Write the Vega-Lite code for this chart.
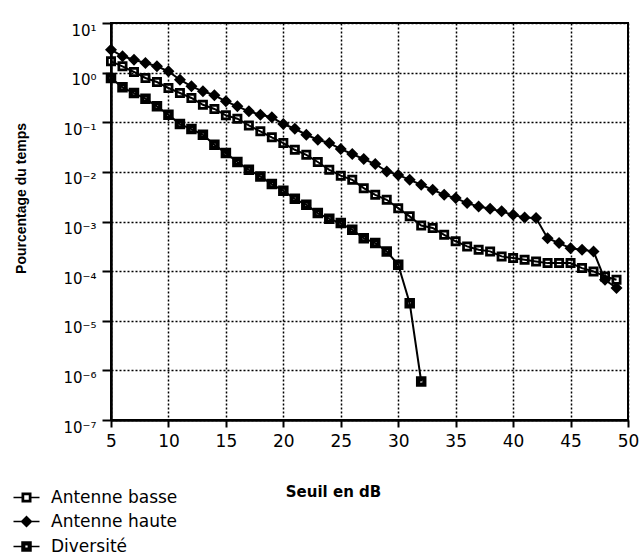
{
  "$schema": "https://vega.github.io/schema/vega-lite/v6.json",
  "width": 517,
  "height": 397,
  "padding": {"left": 14, "top": 22, "right": 0, "bottom": 5},
  "background": "white",
  "config": {"view": {"stroke": "black", "strokeWidth": 2}, "font": "DejaVu Sans"},
  "datasets": {
    "series": [
      {"serie": "Antenne basse", "db": 5, "pct": 1.69},
      {"serie": "Antenne basse", "db": 6, "pct": 1.34},
      {"serie": "Antenne basse", "db": 7, "pct": 1.03},
      {"serie": "Antenne basse", "db": 8, "pct": 0.78},
      {"serie": "Antenne basse", "db": 9, "pct": 0.646},
      {"serie": "Antenne basse", "db": 10, "pct": 0.49},
      {"serie": "Antenne basse", "db": 11, "pct": 0.388},
      {"serie": "Antenne basse", "db": 12, "pct": 0.308},
      {"serie": "Antenne basse", "db": 13, "pct": 0.225},
      {"serie": "Antenne basse", "db": 14, "pct": 0.185},
      {"serie": "Antenne basse", "db": 15, "pct": 0.138},
      {"serie": "Antenne basse", "db": 16, "pct": 0.118},
      {"serie": "Antenne basse", "db": 17, "pct": 0.0865},
      {"serie": "Antenne basse", "db": 18, "pct": 0.0656},
      {"serie": "Antenne basse", "db": 19, "pct": 0.0496},
      {"serie": "Antenne basse", "db": 20, "pct": 0.0381},
      {"serie": "Antenne basse", "db": 21, "pct": 0.0279},
      {"serie": "Antenne basse", "db": 22, "pct": 0.0221},
      {"serie": "Antenne basse", "db": 23, "pct": 0.0158},
      {"serie": "Antenne basse", "db": 24, "pct": 0.011},
      {"serie": "Antenne basse", "db": 25, "pct": 0.0084},
      {"serie": "Antenne basse", "db": 26, "pct": 0.0069},
      {"serie": "Antenne basse", "db": 27, "pct": 0.0047},
      {"serie": "Antenne basse", "db": 28, "pct": 0.00345},
      {"serie": "Antenne basse", "db": 29, "pct": 0.00274},
      {"serie": "Antenne basse", "db": 30, "pct": 0.00186},
      {"serie": "Antenne basse", "db": 31, "pct": 0.00127},
      {"serie": "Antenne basse", "db": 32, "pct": 0.00083},
      {"serie": "Antenne basse", "db": 33, "pct": 0.00074},
      {"serie": "Antenne basse", "db": 34, "pct": 0.00054},
      {"serie": "Antenne basse", "db": 35, "pct": 0.0004},
      {"serie": "Antenne basse", "db": 36, "pct": 0.000315},
      {"serie": "Antenne basse", "db": 37, "pct": 0.00027},
      {"serie": "Antenne basse", "db": 38, "pct": 0.00025},
      {"serie": "Antenne basse", "db": 39, "pct": 0.000198},
      {"serie": "Antenne basse", "db": 40, "pct": 0.000183},
      {"serie": "Antenne basse", "db": 41, "pct": 0.000169},
      {"serie": "Antenne basse", "db": 42, "pct": 0.000157},
      {"serie": "Antenne basse", "db": 43, "pct": 0.000145},
      {"serie": "Antenne basse", "db": 44, "pct": 0.000145},
      {"serie": "Antenne basse", "db": 45, "pct": 0.000145},
      {"serie": "Antenne basse", "db": 46, "pct": 0.000115},
      {"serie": "Antenne basse", "db": 47, "pct": 0.0000986},
      {"serie": "Antenne basse", "db": 48, "pct": 0.0000782},
      {"serie": "Antenne basse", "db": 49, "pct": 0.0000668},
      {"serie": "Antenne haute", "db": 5, "pct": 2.9},
      {"serie": "Antenne haute", "db": 6, "pct": 2.13},
      {"serie": "Antenne haute", "db": 7, "pct": 1.82},
      {"serie": "Antenne haute", "db": 8, "pct": 1.56},
      {"serie": "Antenne haute", "db": 9, "pct": 1.34},
      {"serie": "Antenne haute", "db": 10, "pct": 1.06},
      {"serie": "Antenne haute", "db": 11, "pct": 0.72},
      {"serie": "Antenne haute", "db": 12, "pct": 0.53},
      {"serie": "Antenne haute", "db": 13, "pct": 0.42},
      {"serie": "Antenne haute", "db": 14, "pct": 0.35},
      {"serie": "Antenne haute", "db": 15, "pct": 0.264},
      {"serie": "Antenne haute", "db": 16, "pct": 0.209},
      {"serie": "Antenne haute", "db": 17, "pct": 0.166},
      {"serie": "Antenne haute", "db": 18, "pct": 0.142},
      {"serie": "Antenne haute", "db": 19, "pct": 0.126},
      {"serie": "Antenne haute", "db": 20, "pct": 0.092},
      {"serie": "Antenne haute", "db": 21, "pct": 0.074},
      {"serie": "Antenne haute", "db": 22, "pct": 0.056},
      {"serie": "Antenne haute", "db": 23, "pct": 0.0444},
      {"serie": "Antenne haute", "db": 24, "pct": 0.0381},
      {"serie": "Antenne haute", "db": 25, "pct": 0.0288},
      {"serie": "Antenne haute", "db": 26, "pct": 0.0229},
      {"serie": "Antenne haute", "db": 27, "pct": 0.0181},
      {"serie": "Antenne haute", "db": 28, "pct": 0.0144},
      {"serie": "Antenne haute", "db": 29, "pct": 0.0102},
      {"serie": "Antenne haute", "db": 30, "pct": 0.0087},
      {"serie": "Antenne haute", "db": 31, "pct": 0.0069},
      {"serie": "Antenne haute", "db": 32, "pct": 0.0055},
      {"serie": "Antenne haute", "db": 33, "pct": 0.00436},
      {"serie": "Antenne haute", "db": 34, "pct": 0.00345},
      {"serie": "Antenne haute", "db": 35, "pct": 0.00296},
      {"serie": "Antenne haute", "db": 36, "pct": 0.00235},
      {"serie": "Antenne haute", "db": 37, "pct": 0.00201},
      {"serie": "Antenne haute", "db": 38, "pct": 0.0018},
      {"serie": "Antenne haute", "db": 39, "pct": 0.0016},
      {"serie": "Antenne haute", "db": 40, "pct": 0.00136},
      {"serie": "Antenne haute", "db": 41, "pct": 0.00121},
      {"serie": "Antenne haute", "db": 42, "pct": 0.00117},
      {"serie": "Antenne haute", "db": 43, "pct": 0.00046},
      {"serie": "Antenne haute", "db": 44, "pct": 0.000367},
      {"serie": "Antenne haute", "db": 45, "pct": 0.00029},
      {"serie": "Antenne haute", "db": 46, "pct": 0.00027},
      {"serie": "Antenne haute", "db": 47, "pct": 0.00025},
      {"serie": "Antenne haute", "db": 48, "pct": 0.0000668},
      {"serie": "Antenne haute", "db": 49, "pct": 0.0000456},
      {"serie": "Diversité", "db": 5, "pct": 0.78},
      {"serie": "Diversité", "db": 6, "pct": 0.506},
      {"serie": "Diversité", "db": 7, "pct": 0.388},
      {"serie": "Diversité", "db": 8, "pct": 0.298},
      {"serie": "Diversité", "db": 9, "pct": 0.209},
      {"serie": "Diversité", "db": 10, "pct": 0.142},
      {"serie": "Diversité", "db": 11, "pct": 0.092},
      {"serie": "Diversité", "db": 12, "pct": 0.073},
      {"serie": "Diversité", "db": 13, "pct": 0.056},
      {"serie": "Diversité", "db": 14, "pct": 0.0352},
      {"serie": "Diversité", "db": 15, "pct": 0.0239},
      {"serie": "Diversité", "db": 16, "pct": 0.0158},
      {"serie": "Diversité", "db": 17, "pct": 0.011},
      {"serie": "Diversité", "db": 18, "pct": 0.0081},
      {"serie": "Diversité", "db": 19, "pct": 0.00567},
      {"serie": "Diversité", "db": 20, "pct": 0.00416},
      {"serie": "Diversité", "db": 21, "pct": 0.00287},
      {"serie": "Diversité", "db": 22, "pct": 0.00217},
      {"serie": "Diversité", "db": 23, "pct": 0.00148},
      {"serie": "Diversité", "db": 24, "pct": 0.00113},
      {"serie": "Diversité", "db": 25, "pct": 0.00093},
      {"serie": "Diversité", "db": 26, "pct": 0.00068},
      {"serie": "Diversité", "db": 27, "pct": 0.00046},
      {"serie": "Diversité", "db": 28, "pct": 0.000367},
      {"serie": "Diversité", "db": 29, "pct": 0.00025},
      {"serie": "Diversité", "db": 30, "pct": 0.000134},
      {"serie": "Diversité", "db": 31, "pct": 0.0000226},
      {"serie": "Diversité", "db": 32, "pct": 0.000000597}
    ]
  },
  "resolve": {"scale": {"shape": "independent"}},
  "layer": [
    {
      "data": {"name": "series"},
      "mark": {"type": "line", "stroke": "black", "strokeWidth": 2},
      "encoding": {
        "x": {
          "field": "db", "type": "quantitative",
          "scale": {"domain": [5, 50], "nice": false, "zero": false},
          "axis": {
            "values": [5, 10, 15, 20, 25, 30, 35, 40, 45, 50],
            "grid": true, "gridColor": "black", "gridDash": [2, 2], "gridWidth": 1.5, "gridOpacity": 1,
            "domain": true, "domainColor": "black", "domainWidth": 2.5,
            "ticks": true, "tickSize": 7, "tickWidth": 2, "tickColor": "black",
            "labelFont": "DejaVu Sans", "labelFontSize": 17, "labelColor": "black", "labelPadding": 6,
            "labelFlush": false, "labelOverlap": false,
            "title": "Seuil en dB", "titleFont": "DejaVu Sans", "titleFontWeight": "bold", "titleFontSize": 15,
            "titleColor": "black", "titleX": 222, "titleY": 71, "titleAlign": "center", "titleBaseline": "middle"
          }
        },
        "y": {
          "field": "pct", "type": "quantitative",
          "scale": {"type": "log", "domain": [1e-7, 10], "nice": false},
          "axis": {
            "values": [1e-7, 1e-6, 1e-5, 1e-4, 1e-3, 1e-2, 1e-1, 1, 10],
            "grid": true, "gridColor": "black", "gridDash": [2, 2], "gridWidth": 1.5, "gridOpacity": 1,
            "domain": true, "domainColor": "black", "domainWidth": 2.5,
            "ticks": true, "tickSize": 9, "tickWidth": 2, "tickColor": "black",
            "labelExpr": "['10⁻⁷','10⁻⁶','10⁻⁵','10⁻⁴','10⁻³','10⁻²','10⁻¹','10⁰','10¹'][round(log(datum.value)/LN10)+7]",
            "labelAlign": "right", "labelBaseline": "top",
            "labelFont": "DejaVu Sans", "labelFontSize": 15, "labelColor": "black", "labelPadding": 6,
            "labelFlush": false, "labelOverlap": false,
            "title": "Pourcentage du temps", "titleFont": "Liberation Sans", "titleFontWeight": "bold", "titleFontSize": 14,
            "titleColor": "black", "titleX": -90, "titleY": 175, "titleAngle": 270, "titleAlign": "center", "titleBaseline": "middle"
          }
        },
        "detail": {"field": "serie", "type": "nominal"}
      }
    },
    {
      "data": {"name": "series"},
      "mark": {"type": "point", "filled": true, "fill": "black", "opacity": 1, "size": 100},
      "encoding": {
        "x": {"field": "db", "type": "quantitative"},
        "y": {"field": "pct", "type": "quantitative"},
        "shape": {
          "field": "serie", "type": "nominal",
          "scale": {
            "domain": ["Antenne basse", "Antenne haute", "Diversité"],
            "range": [
              "M-1,-1H1V1H-1Z M-0.45,-0.45V0.45H0.45V-0.45Z",
              "M0,-1.2L1.2,0L0,1.2L-1.2,0Z",
              "M-1.05,-1.05H1.05V1.05H-1.05Z M-0.22,-0.22V0.22H0.22V-0.22Z"
            ]
          },
          "legend": null
        }
      }
    },
    {
      "data": {"name": "series"},
      "transform": [{"filter": "datum.db < 0"}],
      "mark": {"type": "point", "filled": true, "fill": "black", "opacity": 1, "size": 100},
      "encoding": {
        "x": {"field": "db", "type": "quantitative"},
        "y": {"field": "pct", "type": "quantitative"},
        "shape": {
          "field": "serie", "type": "nominal",
          "scale": {
            "domain": ["Antenne basse", "Antenne haute", "Diversité"],
            "range": [
              "M-2.6,-0.17H-1V0.17H-2.6Z M1,-0.17H2.6V0.17H1Z M-1,-1H1V1H-1Z M-0.45,-0.45V0.45H0.45V-0.45Z",
              "M-2.6,-0.17H-1V0.17H-2.6Z M1,-0.17H2.6V0.17H1Z M0,-1.2L1.2,0L0,1.2L-1.2,0Z",
              "M-2.6,-0.17H-1V0.17H-2.6Z M1,-0.17H2.6V0.17H1Z M-1.05,-1.05H1.05V1.05H-1.05Z M-0.22,-0.22V0.22H0.22V-0.22Z"
            ]
          },
          "legend": {
            "orient": "none", "legendX": -93, "legendY": 466, "title": null, "padding": 0,
            "labelFont": "DejaVu Sans", "labelFontSize": 17, "labelColor": "black",
            "symbolSize": 100, "labelOffset": 16, "rowPadding": 6,
            "symbolFillColor": "black", "symbolOpacity": 1
          }
        }
      }
    }
  ]
}
